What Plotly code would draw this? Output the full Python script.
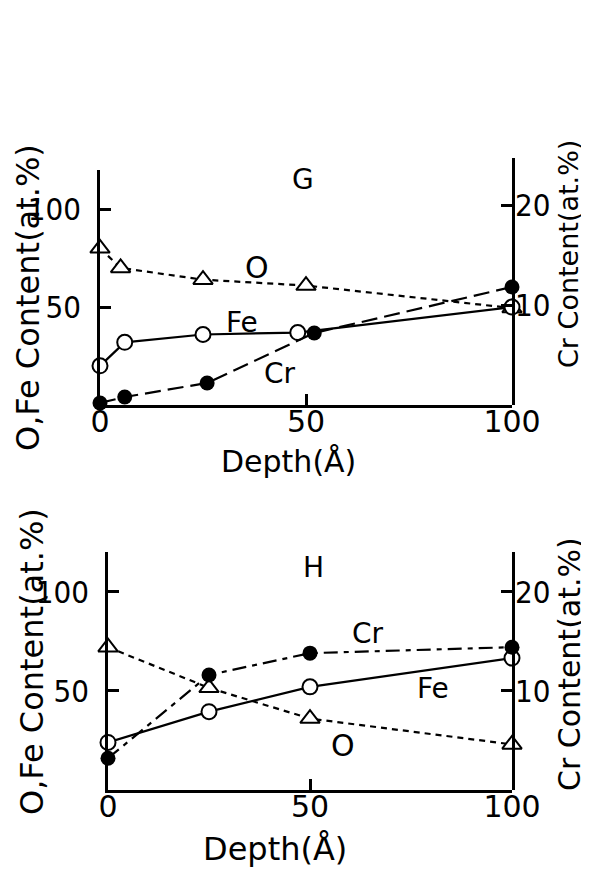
import plotly.graph_objects as go

# ---------------- data ----------------
# Panel G
g_depth_O = [0, 5, 25, 50, 100]
g_O = [80, 70, 64, 61, 49.5]
g_depth_Fe = [0, 6, 25, 48, 100]
g_Fe = [20, 32, 36, 37, 50]
g_depth_Cr = [0, 6, 26, 52, 100]
g_Cr = [0.2, 0.8, 2.2, 7.2, 11.8]

# Panel H
h_depth = [0, 25, 50, 100]
h_O = [72, 51.5, 36, 23]
h_Fe = [24, 39.5, 52, 66.5]
h_Cr = [3.2, 11.6, 13.8, 14.4]

x_ticks = [0, 50, 100]
left_ticks = [50, 100]
right_ticks = [10, 20]

# page body has an 8px margin; the figure fills the rest of the window
OFF = 8
FW, FH = 589 - OFF, 874 - OFF

FONT = "DejaVu Sans"
NARROW = "Liberation Sans Narrow, DejaVu Sans Condensed, DejaVu Sans"
BLACK = "black"


def px(x):
    return (x - OFF) / FW


def py(y):
    return 1 - (y - OFF) / FH


fig = go.Figure()

tri = dict(symbol="triangle-up", size=17, color="white", line=dict(width=2, color=BLACK))
ocirc = dict(symbol="circle", size=15, color="white", line=dict(width=2, color=BLACK))
fcirc = dict(symbol="circle", size=15, color=BLACK, line=dict(width=0))


def add_panel(xa, ya, ya2, dO, O, dFe, Fe, dCr, Cr, crdash):
    fig.add_trace(go.Scatter(x=dO, y=O, xaxis=xa, yaxis=ya, mode="lines+markers",
                             line=dict(color=BLACK, width=2.2, dash="6px,5px"),
                             marker=tri, cliponaxis=False, showlegend=False))
    fig.add_trace(go.Scatter(x=dFe, y=Fe, xaxis=xa, yaxis=ya, mode="lines+markers",
                             line=dict(color=BLACK, width=2.2),
                             marker=ocirc, cliponaxis=False, showlegend=False))
    fig.add_trace(go.Scatter(x=dCr, y=Cr, xaxis=xa, yaxis=ya2, mode="lines+markers",
                             line=dict(color=BLACK, width=2.2, dash=crdash),
                             marker=fcirc, cliponaxis=False, showlegend=False))


add_panel("x", "y", "y2", g_depth_O, g_O, g_depth_Fe, g_Fe, g_depth_Cr, g_Cr, "16px,7px")
add_panel("x2", "y3", "y4", h_depth, h_O, h_depth, h_Fe, h_depth, h_Cr, "14px,6px,5px,6px")

axis_common = dict(showline=True, linecolor=BLACK, linewidth=2.5, showgrid=False,
                   zeroline=False, ticks="inside", ticklen=11, tickwidth=2.5,
                   tickcolor=BLACK, automargin=False, fixedrange=True)

xfont = dict(family=FONT, size=30, color=BLACK)
yfont = dict(family=NARROW, size=31, color=BLACK)

fig.update_layout(
    template="none",
    width=FW, height=FH,
    margin=dict(l=0, r=0, t=0, b=0, pad=0),
    paper_bgcolor="white", plot_bgcolor="rgba(0,0,0,0)",
    xaxis=dict(axis_common, domain=[px(100), px(512)], range=[0, 100], anchor="y",
               tickvals=x_ticks, tickfont=xfont, ticklabelstandoff=-12),
    yaxis=dict(axis_common, domain=[py(405), py(170)], range=[0, 120], anchor="x",
               tickvals=left_ticks, tickfont=yfont, ticklabelstandoff=10),
    yaxis2=dict(axis_common, domain=[py(405), py(158)], side="right", anchor="x",
                range=[0, 24.7], tickvals=right_ticks, tickfont=yfont, ticklabelstandoff=-6),
    xaxis2=dict(axis_common, domain=[px(108), px(512)], range=[0, 100], anchor="y3",
                tickvals=x_ticks, tickfont=xfont, ticklabelstandoff=-12),
    yaxis3=dict(axis_common, domain=[py(790), py(552)], range=[0, 120], anchor="x2",
                tickvals=left_ticks, tickfont=yfont, ticklabelstandoff=10),
    yaxis4=dict(axis_common, domain=[py(790), py(552)], side="right", anchor="x2",
                range=[0, 24], tickvals=right_ticks, tickfont=yfont, ticklabelstandoff=-6),
)


def label(text, x, y, size, angle=0, family=FONT):
    fig.add_annotation(text=text, x=px(x), y=py(y), xref="paper", yref="paper",
                       showarrow=False, textangle=angle, xanchor="center", yanchor="middle",
                       font=dict(family=family, size=size, color=BLACK))


# Panel G texts
label("G", 303, 180, 28)
label("O", 257, 267, 30)
label("Fe", 242, 322, 28)
label("Cr", 280, 373, 28)
label("O,Fe Content(at.%)", 28, 298, 32, -90)
label("Cr Content(at.%)", 568, 254, 27, -90)
label("Depth(Å)", 288, 461, 30)

# Panel H texts
label("H", 313, 567, 28)
label("Cr", 368, 633, 28)
label("Fe", 433, 688, 28)
label("O", 343, 745, 30)
label("O,Fe Content(at.%)", 32, 662, 32, -90)
label("Cr Content(at.%)", 569, 664, 30, -90)
label("Depth(Å)", 275, 849, 32)

fig.write_html("out.html")
